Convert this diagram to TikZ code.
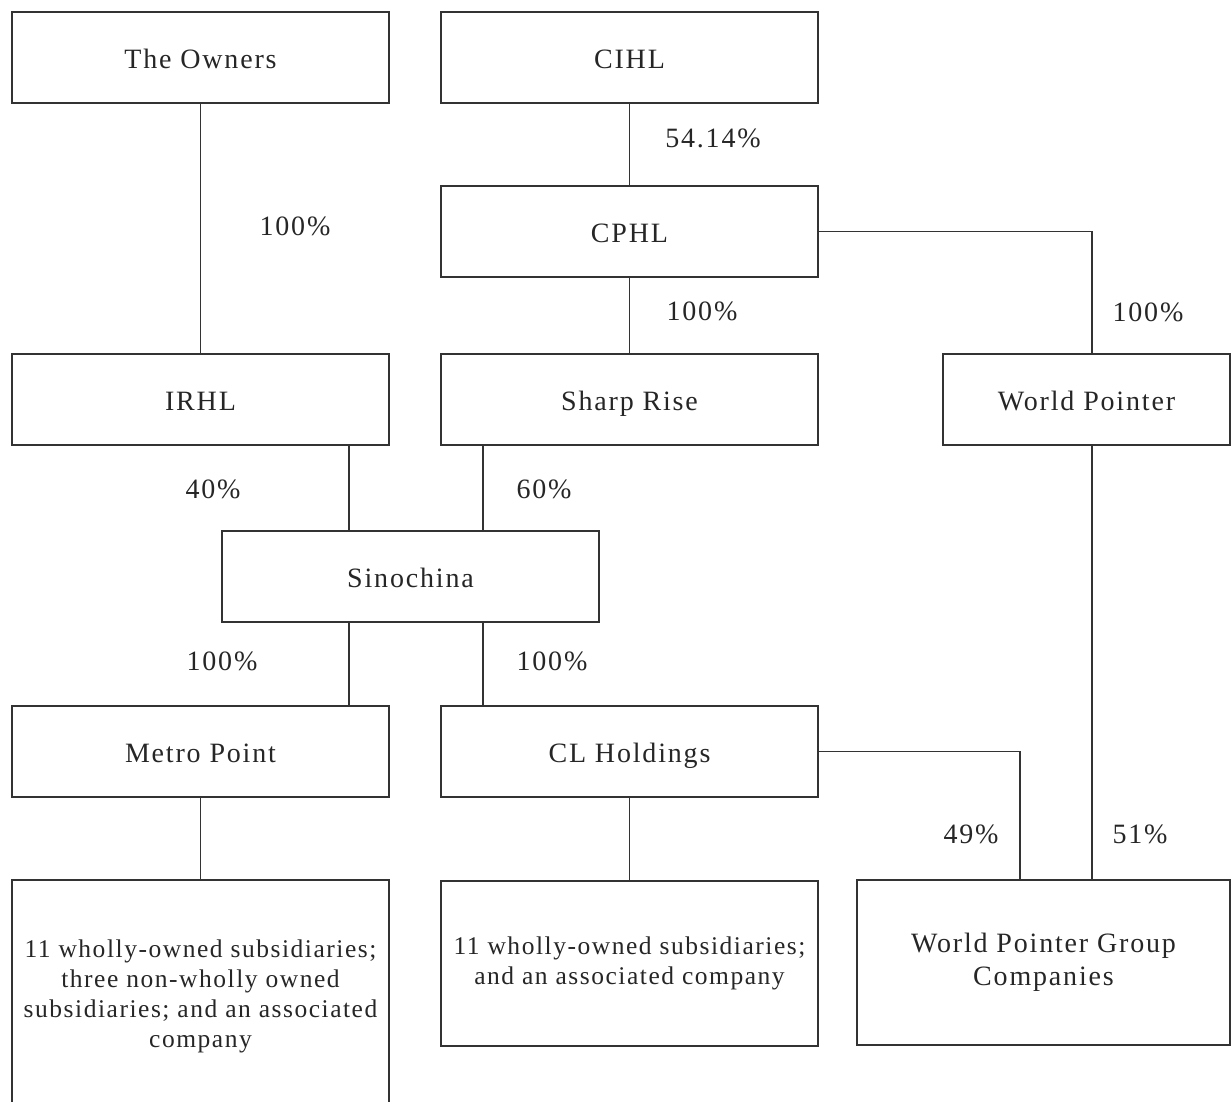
\documentclass[tikz,border=0pt]{standalone}
\usepackage{fontspec}
\setmainfont{Liberation Serif}[LetterSpace=6.5]
\newfontfamily\subfont{Liberation Serif}[LetterSpace=6]
\begin{document}
\begin{tikzpicture}[x=1pt,y=-1pt,
  frame/.style={draw=black!80, line width=1.1pt, minimum width=377pt, minimum height=91pt,
    inner sep=0pt, align=center, text=black!85},
  box/.style={frame, font=\fontsize{28}{32}\selectfont, text height=21.5pt, text depth=0pt},
  subbox/.style={frame, font=\subfont\fontsize{25.5}{30}\selectfont},
  pct/.style={font=\fontsize{28}{32}\selectfont, text=black!85, inner sep=0pt},
  conn/.style={draw=black!80, line width=1.1pt}]
\useasboundingbox (0,0) rectangle (1231,1102);
% boxes
\node[box] (own)  at (200.5,57.5)  {The Owners};
\node[box] (cihl) at (629.5,57.5)  {CIHL};
\node[box] (cphl) at (629.5,231.5) {CPHL};
\node[box] (irhl) at (200.5,399.5) {IRHL};
\node[box] (sr)   at (629.5,399.5) {Sharp Rise};
\node[box, minimum width=287pt] (wp) at (1086.5,399.5) {World Pointer};
\node[box] (sino) at (410.5,576.5) {Sinochina};
\node[box] (mp)   at (200.5,751.5) {Metro Point};
\node[box] (clh)  at (629.5,751.5) {CL Holdings};
\node[subbox, minimum height=232pt] (mps) at (200.5,996)
  {11 wholly-owned subsidiaries;\\three non-wholly owned\\subsidiaries; and an associated\\company};
\node[subbox, minimum height=165pt] (cls) at (629.5,963.5)
  {11 wholly-owned subsidiaries;\\and an associated company};
\node[frame, font=\fontsize{28}{33}\selectfont, minimum width=373pt, minimum height=165pt] (wpg)
  at (1043.5,962.5) {World Pointer Group\\Companies};
% x positions of connectors
\coordinate (xa) at (349,0);
\coordinate (xb) at (483,0);
\coordinate (xc) at (1020,0);
\coordinate (xd) at (1092,0);
% connectors
\draw[conn] (own) -- (irhl);
\draw[conn] (cihl) -- (cphl);
\draw[conn] (cphl) -- (sr);
\draw[conn] (cphl.east) -| (wp.north -| xd);
\draw[conn] (irhl.south -| xa) -- (sino.north -| xa);
\draw[conn] (sr.south -| xb) -- (sino.north -| xb);
\draw[conn] (sino.south -| xa) -- (mp.north -| xa);
\draw[conn] (sino.south -| xb) -- (clh.north -| xb);
\draw[conn] (mp) -- (mps);
\draw[conn] (clh) -- (cls);
\draw[conn] (clh.east) -| (wpg.north -| xc);
\draw[conn] (wp.south -| xd) -- (wpg.north -| xd);
% labels
\node[pct] (l1) at (713,138) {54.14\%};
\node[pct] (l2) at (295,226) {100\%};
\node[pct] (l3) at (702,311) {100\%};
\node[pct] (l4) at (1148,312) {100\%};
\node[pct] (l5) at (213,489) {40\%};
\node[pct] (l6) at (544,489) {60\%};
\node[pct] (l7) at (222,661) {100\%};
\node[pct] (l8) at (552,661) {100\%};
\node[pct] (l9) at (971,834) {49\%};
\node[pct] (l10) at (1140,834) {51\%};
\end{tikzpicture}
\end{document}
